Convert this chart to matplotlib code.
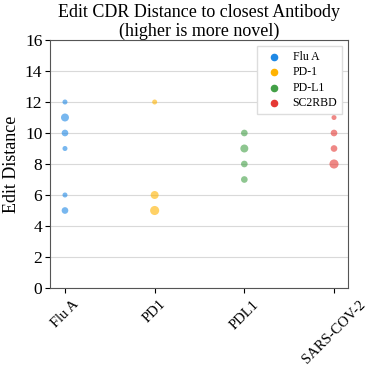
import matplotlib
matplotlib.use("Agg")
import matplotlib.pyplot as plt

plt.rcParams['font.family'] = ['Liberation Serif', 'DejaVu Serif']

categories = ["Flu A", "PD1", "PDL1", "SARS-COV-2"]
series_names = ["Flu A", "PD-1", "PD-L1", "SC2RBD"]
colors = ["#1E88E5", "#FFB300", "#43A047", "#E53935"]

flu_dist = [12, 11, 10, 9, 6, 5]
flu_count = [1, 3, 2, 1, 1, 2]
pd1_dist = [12, 6, 5]
pd1_count = [1, 3, 4]
pdl1_dist = [10, 9, 8, 7]
pdl1_count = [2, 3, 2, 2]
sc2_dist = [11, 10, 9, 8]
sc2_count = [1, 2, 2, 4]

dists = [flu_dist, pd1_dist, pdl1_dist, sc2_dist]
counts = [flu_count, pd1_count, pdl1_count, sc2_count]

fig = plt.figure(figsize=(3.7, 3.66), dpi=100)
ax = fig.add_axes([50/370, 1-288/366, 298/370, 248/366])

for i, (d, c) in enumerate(zip(dists, counts)):
    ax.scatter([i]*len(d), d, s=[10*k + 3 for k in c], color=colors[i],
               alpha=0.6, linewidths=0, zorder=3)
    ax.scatter([], [], s=20, color=colors[i], label=series_names[i])

ax.set_xticks(range(len(categories)))
ax.set_xticklabels(categories, rotation=45, fontsize=10.5)
ax.set_xlim(-0.167, 3.156)
ax.set_ylim(0, 16)
ax.set_yticks(range(0, 17, 2))
ax.tick_params(axis='y', labelsize=12.5, pad=2)
ax.set_ylabel("Edit Distance", fontsize=13)
ax.yaxis.set_label_coords(-0.1, 0.5)
ax.set_title("Edit CDR Distance to closest Antibody\n(higher is more novel)",
             fontsize=13, linespacing=1.1, pad=1)
ax.yaxis.grid(True, color='#d9d9d9', linewidth=0.8, zorder=0)
ax.set_axisbelow(True)
for sp in ax.spines.values():
    sp.set_color('#555555')
    sp.set_linewidth(0.8)
ax.legend(loc='upper right', fontsize=8.5, frameon=True, framealpha=1,
          edgecolor='#dddddd', fancybox=False, handletextpad=0.6,
          borderpad=0.4, labelspacing=0.3)

fig.savefig("out.png", dpi=100)
